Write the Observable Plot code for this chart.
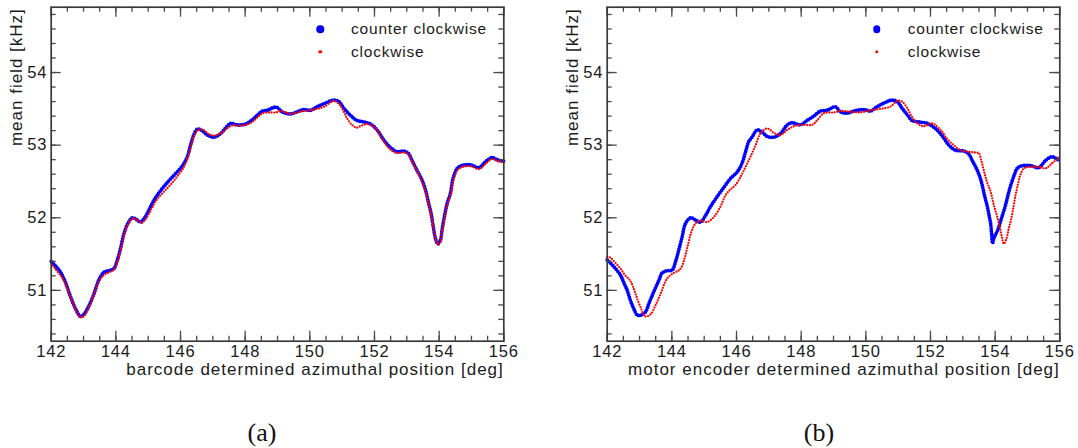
<!DOCTYPE html>
<html><head><meta charset="utf-8">
<script src="https://cdn.jsdelivr.net/npm/d3@7"></script>
<script src="https://cdn.jsdelivr.net/npm/@observablehq/plot@0.6"></script>
<style>
body{margin:0;background:#fff;}
#wrap{position:relative;width:1078px;height:448px;overflow:hidden;background:#fff;}
.panel{position:absolute;top:0;}
.cap{position:absolute;font-family:"Liberation Serif","Times New Roman",serif;font-size:26px;color:#111;transform:translate(-50%,-50%);white-space:nowrap;}
.dot{position:absolute;border-radius:50%;transform:translate(-50%,-50%);}
.legtxt{position:absolute;transform:translateY(-50%);font-family:"Liberation Sans",Arial,sans-serif;font-size:15.5px;letter-spacing:0.8px;color:#1a1a1a;white-space:nowrap;}
</style></head><body><div id="wrap"></div>
<script>
// ---- tick labels / axes ----
const xTicks = [142, 144, 146, 148, 150, 152, 154, 156];
const yTicks = [51, 52, 53, 54];
const legendLabels = ["counter clockwise", "clockwise"];
const xTitles = ["barcode determined azimuthal position [deg]", "motor encoder determined azimuthal position [deg]"];
const yTitle = "mean field [kHz]";
const captions = ["(a)", "(b)"];

// ---- panel (a): counter clockwise ----
const aCcwX = [142.0,142.15,142.29,142.44,142.6,142.75,142.91,143.01,143.17,143.32,143.47,143.63,143.78,143.94,144.04,144.14,144.25,144.37,144.51,144.66,144.76,144.92,145.07,145.23,145.43,145.64,145.85,146.05,146.21,146.31,146.41,146.52,146.67,146.83,147.03,147.24,147.44,147.55,147.75,148.01,148.22,148.37,148.53,148.68,148.89,148.99,149.14,149.4,149.61,149.81,150.02,150.23,150.48,150.74,150.9,151.05,151.26,151.46,151.67,151.88,152.08,152.29,152.49,152.7,152.91,153.06,153.16,153.32,153.47,153.58,153.68,153.75,153.81,153.89,153.96,154.04,154.09,154.16,154.25,154.35,154.43,154.56,154.71,154.97,155.23,155.43,155.64,155.79,156.0];
const aCcwY = [51.40,51.33,51.25,51.11,50.91,50.75,50.64,50.67,50.79,50.95,51.14,51.25,51.27,51.30,51.41,51.57,51.78,51.92,52.00,51.97,51.94,52.02,52.15,52.28,52.40,52.51,52.61,52.71,52.84,53.00,53.14,53.22,53.20,53.14,53.11,53.16,53.26,53.30,53.28,53.29,53.35,53.41,53.47,53.48,53.52,53.52,53.46,53.43,53.46,53.49,53.48,53.53,53.58,53.62,53.60,53.51,53.41,53.34,53.32,53.29,53.21,53.07,52.97,52.91,52.92,52.88,52.79,52.65,52.52,52.38,52.19,52.06,51.90,51.71,51.64,51.69,51.83,52.01,52.20,52.34,52.54,52.68,52.72,52.73,52.69,52.77,52.83,52.80,52.78];
// ---- panel (a): clockwise ----
const aCwX = [142.0,142.15,142.3,142.45,142.6,142.75,142.9,143.02,143.17,143.32,143.47,143.63,143.8,143.95,144.05,144.15,144.26,144.38,144.52,144.66,144.8,144.95,145.1,145.25,145.49,145.7,145.9,146.08,146.22,146.32,146.42,146.55,146.7,146.85,147.03,147.24,147.44,147.6,147.8,148.01,148.22,148.4,148.55,148.75,148.95,149.09,149.25,149.4,149.6,149.81,150.02,150.23,150.45,150.74,150.9,151.05,151.15,151.3,151.45,151.6,151.8,151.95,152.1,152.29,152.49,152.7,152.91,153.06,153.16,153.32,153.47,153.58,153.68,153.75,153.82,153.9,153.97,154.04,154.1,154.17,154.26,154.36,154.44,154.57,154.72,154.97,155.23,155.43,155.64,155.8,156.0];
const aCwY = [51.37,51.28,51.20,51.08,50.90,50.74,50.63,50.65,50.77,50.94,51.12,51.21,51.25,51.29,51.39,51.56,51.77,51.91,51.99,51.97,51.93,52.00,52.12,52.24,52.36,52.46,52.57,52.68,52.82,52.98,53.13,53.21,53.21,53.16,53.13,53.16,53.23,53.27,53.27,53.28,53.32,53.39,53.44,53.45,53.45,53.47,53.45,53.43,53.45,53.47,53.48,53.50,53.53,53.61,53.57,53.46,53.37,53.28,53.24,53.27,53.29,53.26,53.19,53.05,52.94,52.89,52.90,52.87,52.78,52.64,52.50,52.36,52.18,52.05,51.88,51.70,51.63,51.67,51.82,52.00,52.19,52.33,52.52,52.66,52.70,52.71,52.67,52.74,52.81,52.78,52.76];

// ---- panel (b): counter clockwise ----
const bCcwX = [142.0,142.2,142.41,142.51,142.62,142.72,142.82,142.93,143.05,143.18,143.29,143.44,143.6,143.7,143.85,144.01,144.11,144.21,144.32,144.42,144.58,144.73,144.88,145.04,145.19,145.4,145.61,145.81,146.02,146.17,146.28,146.38,146.48,146.64,146.79,146.95,147.15,147.36,147.57,147.72,147.98,148.18,148.39,148.6,148.8,149.06,149.21,149.42,149.63,149.94,150.14,150.35,150.56,150.81,150.97,151.12,151.28,151.43,151.64,151.9,152.15,152.36,152.57,152.77,153.03,153.18,153.29,153.42,153.53,153.6,153.67,153.75,153.8,153.86,153.89,153.92,153.96,154.08,154.2,154.3,154.38,154.45,154.52,154.6,154.68,154.78,155.09,155.35,155.56,155.76,155.97];
const bCcwY = [51.42,51.33,51.21,51.11,51.00,50.86,50.75,50.66,50.66,50.70,50.82,50.98,51.14,51.24,51.27,51.28,51.39,51.55,51.74,51.92,52.00,51.97,51.94,52.03,52.15,52.29,52.42,52.54,52.63,52.75,52.91,53.05,53.11,53.21,53.18,53.12,53.11,53.16,53.28,53.31,53.28,53.34,53.40,53.47,53.48,53.53,53.46,53.44,53.47,53.49,53.47,53.53,53.58,53.62,53.60,53.51,53.42,53.34,53.32,53.30,53.23,53.13,53.00,52.93,52.92,52.88,52.79,52.68,52.56,52.45,52.31,52.17,52.06,51.92,51.78,51.65,51.72,51.83,52.00,52.14,52.28,52.40,52.50,52.60,52.68,52.71,52.72,52.69,52.79,52.84,52.79];
// ---- panel (b): clockwise ----
const bCwX = [142.0,142.1,142.25,142.41,142.55,142.7,142.8,142.9,143.03,143.18,143.34,143.49,143.65,143.85,144.06,144.2,144.3,144.4,144.5,144.6,144.73,144.88,145.09,145.3,145.5,145.66,145.81,145.97,146.12,146.28,146.43,146.59,146.74,146.95,147.15,147.36,147.57,147.77,148.08,148.34,148.49,148.7,149.01,149.22,149.53,149.83,150.14,150.45,150.76,150.97,151.12,151.28,151.43,151.59,151.79,152.05,152.31,152.51,152.72,152.93,153.13,153.34,153.49,153.57,153.65,153.75,153.86,153.96,154.06,154.14,154.22,154.27,154.35,154.42,154.49,154.56,154.63,154.7,154.78,154.89,155.09,155.35,155.56,155.76,155.97];
const bCwY = [51.46,51.45,51.38,51.30,51.21,51.14,51.05,50.92,50.77,50.64,50.67,50.79,50.95,51.16,51.24,51.27,51.32,51.45,51.63,51.80,51.92,51.96,51.94,52.01,52.15,52.31,52.39,52.45,52.56,52.70,52.84,53.00,53.16,53.23,53.17,53.14,53.21,53.26,53.28,53.28,53.34,53.44,53.45,53.47,53.46,53.45,53.48,53.50,53.53,53.61,53.60,53.51,53.39,53.30,53.26,53.30,53.21,53.09,53.00,52.93,52.91,52.90,52.89,52.79,52.65,52.49,52.36,52.17,52.02,51.88,51.71,51.64,51.71,51.85,51.97,52.13,52.31,52.45,52.59,52.68,52.70,52.70,52.68,52.75,52.83];

const ccwColor = "#0000ff", cwColor = "#ff0000";
const H = 390, MT = 6.7, MB = 49.3;
const innerH = H - MT - MB;
const xMinor = d3.range(142, 156.001, 0.5);
const yMinor = d3.range(50.4, 54.9, 0.2);
const tickColor = "#4a4a4a";

function panel(ccwX, ccwY, cwX, cwY, xTitle, width, ml, mr) {
  const ccw = ccwX.map((x, i) => ({x, y: ccwY[i]}));
  const cw = cwX.map((x, i) => ({x, y: cwY[i]}));
  const innerW = width - ml - mr;
  const tk = {stroke: tickColor, strokeWidth: 1.3};
  return Plot.plot({
    width, height: H, marginLeft: ml, marginRight: mr, marginTop: MT, marginBottom: MB,
    x: {domain: [142, 156]},
    y: {domain: [50.3, 54.9]},
    style: "font-family:'Liberation Sans',Arial,sans-serif;font-size:16px;letter-spacing:0.8px;color:#1a1a1a;background:#fff;overflow:visible;",
    marks: [
      Plot.line(ccw, {x: "x", y: "y", stroke: ccwColor, strokeWidth: 3.8, strokeDasharray: "0 2.6", strokeLinecap: "round", curve: "catmull-rom"}),
      Plot.line(cw, {x: "x", y: "y", stroke: cwColor, strokeWidth: 2.3, strokeDasharray: "0 2.7", strokeLinecap: "round", curve: "catmull-rom"}),
      // minor ticks, all four sides, pointing inward
      Plot.tickX(xMinor, {x: d => d, insetTop: innerH - 5, ...tk}),
      Plot.tickX(xMinor, {x: d => d, insetBottom: innerH - 5, ...tk}),
      Plot.tickY(yMinor, {y: d => d, insetRight: innerW - 5, ...tk}),
      Plot.tickY(yMinor, {y: d => d, insetLeft: innerW - 5, ...tk}),
      // major ticks
      Plot.tickX(xTicks, {x: d => d, insetTop: innerH - 10, ...tk}),
      Plot.tickX(xTicks, {x: d => d, insetBottom: innerH - 10, ...tk}),
      Plot.tickY(yTicks, {y: d => d, insetRight: innerW - 10, ...tk}),
      Plot.tickY(yTicks, {y: d => d, insetLeft: innerW - 10, ...tk}),
      Plot.frame({stroke: "#3a3a3a", strokeWidth: 1.7}),
      Plot.axisX(xTicks, {tickSize: 0, tickPadding: 4.5, label: null, fontSize: 16.5, tickFormat: d => String(d)}),
      Plot.axisY(yTicks, {tickSize: 0, tickPadding: 4, label: null, fontSize: 16.5, tickFormat: d => String(d)}),
      Plot.text([xTitle], {text: d => d, frameAnchor: "bottom-right", textAnchor: "end", lineAnchor: "top", dy: 22, fontSize: 17}),
      Plot.text([yTitle], {text: d => d, frameAnchor: "top-left", textAnchor: "end", rotate: -90, dx: -41, dy: 1, fontSize: 17})
    ]
  });
}

const wrap = document.getElementById("wrap");
function place(el, left) { const d = document.createElement("div"); d.className = "panel"; d.style.left = left + "px"; d.appendChild(el); wrap.appendChild(d); }
place(panel(aCcwX, aCcwY, aCwX, aCwY, xTitles[0], 540, 50.7, 36.7), 0);
place(panel(bCcwX, bCcwY, bCwX, bCwY, xTitles[1], 538, 66.7, 18.7), 540);
// slightly wider tracking for the axis titles (ROOT style)
wrap.querySelectorAll("svg g[aria-label='text'] text").forEach(t => t.style.letterSpacing = "1px");

function legend(dotX, txtX) {
  const rows = [{c: ccwColor, d: 7.5, y: 29}, {c: cwColor, d: 3.6, y: 51.7}];
  rows.forEach((r, i) => {
    const dot = document.createElement("div"); dot.className = "dot";
    Object.assign(dot.style, {left: dotX + "px", top: r.y + "px", width: r.d + "px", height: r.d + "px", background: r.c});
    wrap.appendChild(dot);
    const t = document.createElement("div"); t.className = "legtxt"; t.textContent = legendLabels[i];
    Object.assign(t.style, {left: txtX + "px", top: r.y + "px"});
    wrap.appendChild(t);
  });
}
legend(320, 351);
legend(876.7, 907.7);

[[262, 433], [819, 433]].forEach(([x, y], i) => {
  const c = document.createElement("div"); c.className = "cap"; c.textContent = captions[i];
  Object.assign(c.style, {left: x + "px", top: y + "px"}); wrap.appendChild(c);
});
</script></body></html>
